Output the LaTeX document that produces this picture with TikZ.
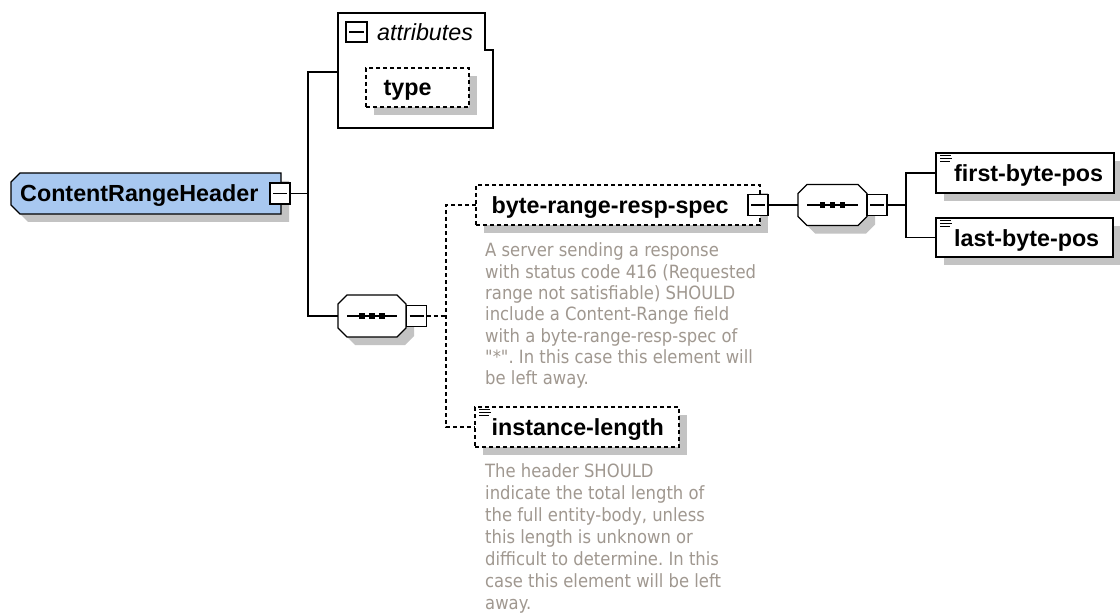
\documentclass[tikz,border=0pt]{standalone}
\usepackage{fontspec}
\setmainfont{Liberation Sans}
\newfontfamily\descfont[FakeStretch=0.9]{DejaVu Sans}
\usetikzlibrary{calc,shadows}
\frenchspacing

\definecolor{elemblue}{HTML}{A8C8F0}
\definecolor{shadowgray}{HTML}{C3C3C3}
\definecolor{doctext}{HTML}{A09890}

% element outline with the two left corners cut off; #1 node, #2 offset
\newcommand\tagpath[2]{%
  ($(#1.north west)+(9+#2,#2)$) -- ($(#1.north east)+(#2,#2)$) --
  ($(#1.south east)+(#2,#2)$) -- ($(#1.south west)+(9+#2,#2)$) --
  ($(#1.south west)+(#2,-9+#2)$) -- ($(#1.north west)+(#2,9+#2)$) -- cycle}
% compositor outline, all four corners cut off; #1 node, #2 offset
\newcommand\octpath[2]{%
  ($(#1.north west)+(9+#2,#2)$) -- ($(#1.north east)+(-9+#2,#2)$) --
  ($(#1.north east)+(#2,9+#2)$) -- ($(#1.south east)+(#2,-9+#2)$) --
  ($(#1.south east)+(-9+#2,#2)$) -- ($(#1.south west)+(9+#2,#2)$) --
  ($(#1.south west)+(#2,-9+#2)$) -- ($(#1.north west)+(#2,9+#2)$) -- cycle}
% sequence compositor: outline, shadow and the dotted-line symbol
\newcommand\seqsymbol[1]{%
  \fill[shadowgray] \octpath{#1}{8};
  \filldraw[wire, fill=white] \octpath{#1}{0};
  \draw[wire] ($(#1.west)+(9,0)$) -- ($(#1.east)+(-9,0)$);
  \foreach \dx in {-10,0,10}
    \fill ($(#1.center)+(\dx-2.6,-2.6)$) rectangle ($(#1.center)+(\dx+2.6,2.6)$);}
% small "simple content" mark in the upper left corner of a box
\newcommand\contentmark[1]{%
  \foreach \dy/\len in {2.8/11,5.6/12,8.4/10}
    \draw[line width=1.1pt] ($(#1.north west)+(4,\dy)$) -- ++(\len,0);}

\tikzset{
  wire/.style={line width=1.4pt},
  optwire/.style={line width=1.4pt, dash pattern=on 4.2pt off 2.8pt},
  hidden/.style={rectangle, inner sep=0pt, outer sep=0pt, anchor=north west},
  elembox/.style={rectangle, draw, fill=white, line width=1.4pt, inner sep=0pt,
    outer sep=0pt, anchor=north west,
    drop shadow={shadow xshift=8pt, shadow yshift=-8pt, fill=shadowgray,
      draw=none, opacity=1}},
  optbox/.style={elembox, dash pattern=on 4.2pt off 2.8pt},
  minus/.style={rectangle, draw, fill=white, line width=1.4pt, inner sep=0pt,
    outer sep=0pt, minimum width=20pt, minimum height=21pt,
    path picture={\draw[line width=1.4pt]
      ([xshift=3pt]path picture bounding box.west) --
      ([xshift=-3pt]path picture bounding box.east);}},
  lbl/.style={anchor=base west, inner sep=0pt,
    font=\fontsize{23.3}{28}\selectfont\bfseries},
  doc/.style={anchor=north west, inner sep=0pt, align=left, text=doctext},
}

\begin{document}
\begin{tikzpicture}[x=1pt, y=-1pt]
\useasboundingbox[fill=white] (0,0) rectangle (1120,615);

% ---- root element ----
\node[hidden, minimum width=270pt, minimum height=41pt] (root) at (11,173) {};
\fill[shadowgray] \tagpath{root}{8};
\filldraw[wire, fill=elemblue] \tagpath{root}{0};
\node[lbl] (rootlbl) at (20,201.8) {ContentRangeHeader};
\node[minus] (m0) at (280,193.5) {};

% ---- attribute group ----
\node[hidden, minimum width=155pt, minimum height=115pt] (attr) at (338,13) {};
\filldraw[wire, fill=white] (attr.north west) -- ($(attr.north east)+(-8,0)$)
  -- ($(attr.north east)+(-8,37)$) -- ($(attr.north east)+(0,37)$)
  -- (attr.south east) -- (attr.south west) -- cycle;
\node[minus, minimum width=21pt, minimum height=20pt] (ma) at (356.5,32) {};
\node[anchor=base west, inner sep=0pt, font=\fontsize{23.3}{28}\selectfont\itshape]
  (attrlbl) at (377,40.7) {attributes};
\node[optbox, minimum width=103pt, minimum height=39pt] (type) at (366,68) {};
\node[lbl] (typelbl) at (383.5,95.8) {type};
\coordinate (attrpin) at (338,72);

% ---- first sequence ----
\node[hidden, minimum width=68pt, minimum height=42pt] (s1) at (338,295) {};
\seqsymbol{s1}
\node[minus] (m1) at (416.5,316) {};

% ---- byte-range-resp-spec ----
\node[optbox, minimum width=284pt, minimum height=40pt] (brs) at (476,185) {};
\node[lbl] (brslbl) at (491.5,213.3) {byte-range-resp-spec};
\node[minus] (m2) at (758,205) {};
\node[doc, font=\descfont\fontsize{18.25}{21.3}\selectfont] (brsdoc) at (485,241.7)
  {\rule{0pt}{15pt}A server sending a response\\
   with status code 416 (Requested\\
   range not satisfiable) SHOULD\\
   include a Content-Range field\\
   with a byte-range-resp-spec of\\
   "*". In this case this element will\\
   be left away.};

% ---- second sequence ----
\node[hidden, minimum width=69pt, minimum height=41pt] (s2) at (798,184.5) {};
\seqsymbol{s2}
\node[minus] (m3) at (877,205) {};

% ---- byte positions ----
\node[elembox, minimum width=178pt, minimum height=40pt] (fbp) at (936,153) {};
\contentmark{fbp}
\node[lbl] (fbplbl) at (954,181.5) {first-byte-pos};
\node[elembox, minimum width=177pt, minimum height=39pt] (lbp) at (936,218) {};
\contentmark{lbp}
\node[lbl] (lbplbl) at (954,246) {last-byte-pos};

% ---- instance-length ----
\node[optbox, minimum width=204pt, minimum height=40pt] (il) at (475,407) {};
\contentmark{il}
\node[lbl] (illbl) at (491.5,435.5) {instance-length};
\node[doc, font=\descfont\fontsize{18.25}{22}\selectfont] (ildoc) at (485,462.7)
  {\rule{0pt}{15pt}The header SHOULD\\
   indicate the total length of\\
   the full entity-body, unless\\
   this length is unknown or\\
   difficult to determine. In this\\
   case this element will be left\\
   away.};

% ---- connectors ----
\coordinate (j0) at (308,193.5);
\coordinate (j1) at (446,316);
\coordinate (j2) at (906,205);
\draw[wire] (m0.east) -- (j0);
\draw[wire] (attrpin) -| (j0) |- (s1.west);
\draw[optwire] (m1.east) -- (j1);
\draw[optwire] (brs.west) -| (j1) |- (il.west);
\draw[wire] (m2.east) -- (s2.west);
\draw[wire] (m3.east) -- (j2);
\draw[wire] (fbp.west) -| (j2) |- (lbp.west);
\end{tikzpicture}
\end{document}
